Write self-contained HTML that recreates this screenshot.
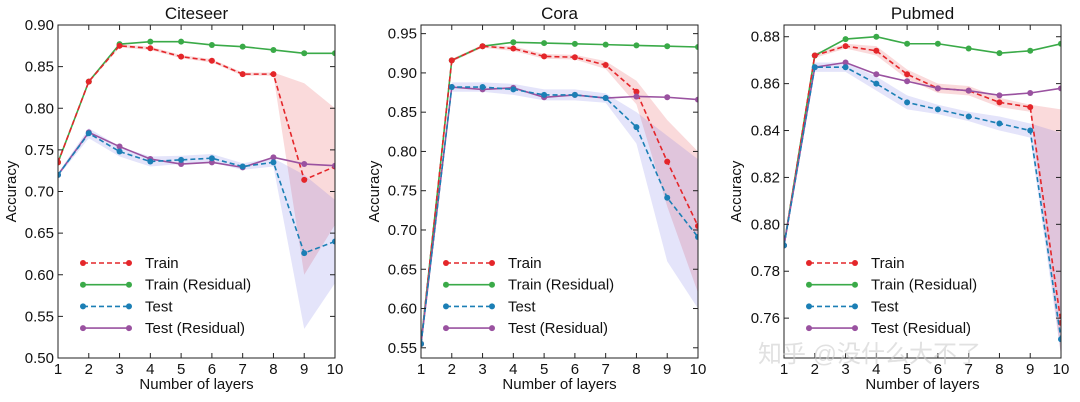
<!DOCTYPE html>
<html><head><meta charset="utf-8"><style>
html,body{margin:0;padding:0;background:#fff;overflow:hidden;width:1080px;height:402px;}
svg{display:block;overflow:hidden;}
svg text{font-family:"Liberation Sans","DejaVu Sans",sans-serif;fill:#111;}
</style></head><body>
<svg id="c" width="1080" height="402" xmlns="http://www.w3.org/2000/svg"></svg>
<script>
const layers=[1,2,3,4,5,6,7,8,9,10];
const citeTrain=[0.735,0.832,0.875,0.872,0.862,0.857,0.841,0.841,0.714,0.730];
const citeTrainRes=[0.735,0.832,0.877,0.880,0.880,0.876,0.874,0.870,0.866,0.866];
const citeTest=[0.720,0.770,0.748,0.736,0.738,0.740,0.730,0.735,0.626,0.640];
const citeTestRes=[0.720,0.771,0.754,0.739,0.733,0.735,0.729,0.741,0.733,0.731];
const citeTrainLo=[0.735,0.830,0.873,0.870,0.860,0.855,0.839,0.839,0.600,0.660];
const citeTrainHi=[0.735,0.834,0.877,0.874,0.864,0.859,0.843,0.843,0.830,0.800];
const citeTestLo=[0.718,0.764,0.742,0.730,0.733,0.735,0.726,0.730,0.535,0.590];
const citeTestHi=[0.722,0.776,0.754,0.742,0.743,0.745,0.734,0.740,0.720,0.690];
const citeTicks=[0.50,0.55,0.60,0.65,0.70,0.75,0.80,0.85,0.90];

const coraTrain=[0.555,0.916,0.934,0.931,0.921,0.920,0.910,0.876,0.787,0.705];
const coraTrainRes=[0.555,0.916,0.934,0.939,0.938,0.937,0.936,0.935,0.934,0.933];
const coraTest=[0.555,0.882,0.882,0.879,0.872,0.872,0.868,0.831,0.741,0.691];
const coraTestRes=[0.555,0.882,0.879,0.881,0.869,0.872,0.868,0.870,0.869,0.866];
const coraTrainLo=[0.555,0.914,0.932,0.928,0.918,0.917,0.905,0.860,0.730,0.620];
const coraTrainHi=[0.555,0.918,0.936,0.934,0.924,0.923,0.915,0.890,0.840,0.800];
const coraTestLo=[0.553,0.876,0.876,0.872,0.865,0.865,0.862,0.810,0.660,0.600];
const coraTestHi=[0.557,0.888,0.888,0.886,0.879,0.879,0.874,0.850,0.820,0.790];
const coraTicks=[0.55,0.60,0.65,0.70,0.75,0.80,0.85,0.90,0.95];

const pubTrain=[0.791,0.872,0.876,0.874,0.864,0.858,0.857,0.852,0.850,0.758];
const pubTrainRes=[0.791,0.872,0.879,0.880,0.877,0.877,0.875,0.873,0.874,0.877];
const pubTest=[0.791,0.867,0.867,0.860,0.852,0.849,0.846,0.843,0.840,0.751];
const pubTestRes=[0.791,0.867,0.869,0.864,0.861,0.858,0.857,0.855,0.856,0.858];
const pubTrainLo=[0.790,0.871,0.875,0.872,0.862,0.856,0.855,0.850,0.848,0.744];
const pubTrainHi=[0.792,0.873,0.877,0.876,0.866,0.860,0.859,0.854,0.851,0.849];
const pubTestLo=[0.790,0.865,0.865,0.857,0.849,0.847,0.844,0.840,0.837,0.744];
const pubTestHi=[0.792,0.869,0.869,0.863,0.855,0.851,0.848,0.846,0.843,0.839];
const pubTicks=[0.76,0.78,0.80,0.82,0.84,0.86,0.88];

const NS="http://www.w3.org/2000/svg";
const svg=document.getElementById('c');
function mk(tag,attrs,parent){const e=document.createElementNS(NS,tag);for(const k in attrs)e.setAttribute(k,attrs[k]);(parent||svg).appendChild(e);return e;}
const COL={train:'#e4262a',trainRes:'#3aaa48',test:'#1b7fb5',testRes:'#9a52a0'};

function panel(o){
  const g=mk('g',{});
  
  
  const L=o.x0,R=o.x1,T=25,B=358;
  const xs=v=>L+(v-1)/9*(R-L);
  const ys=v=>B-(v-o.ymin)/(o.ymax-o.ymin)*(B-T);
  const cp=mk('clipPath',{id:'cp'+o.key},g);mk('rect',{x:L,y:T,width:R-L,height:B-T},cp);
  const pg=mk('g',{'clip-path':'url(#cp'+o.key+')'},g);
  function band(lo,hi,col,name){
    let d='';layers.forEach((l,i)=>{d+=(i?'L':'M')+xs(l)+' '+ys(hi[i]);});
    for(let i=layers.length-1;i>=0;i--)d+='L'+xs(layers[i])+' '+ys(lo[i]);
    const p=mk('path',{d:d+'Z',fill:col,'fill-opacity':0.17,stroke:'none'},pg);
    
    
  }
  band(o.trLo,o.trHi,COL.train,'train-band');
  band(o.teLo,o.teHi,'#6060e0','test-band');
  function series(vals,col,dash,name){
    const pts=layers.map((l,i)=>xs(l)+','+ys(vals[i])).join(' ');
    const pl=mk('polyline',{points:pts,fill:'none',stroke:col,'stroke-width':1.6,'stroke-dasharray':dash?'5,3':'none'},pg);
    
    
    layers.forEach((l,i)=>{const c=mk('circle',{cx:xs(l),cy:ys(vals[i]),r:3,fill:col},pg);
      
      });
  }
  series(o.trainRes,COL.trainRes,false,'train-residual');
  series(o.train,COL.train,true,'train');
  series(o.testRes,COL.testRes,false,'test-residual');
  series(o.test,COL.test,true,'test');
  mk('rect',{x:L,y:T,width:R-L,height:B-T,fill:'none',stroke:'#222','stroke-width':1},g);
  o.ticks.forEach(t=>{const y=ys(t);
    mk('line',{x1:L,y1:y,x2:L+5,y2:y,stroke:'#222'},g);mk('line',{x1:R,y1:y,x2:R-5,y2:y,stroke:'#222'},g);
    const tx=mk('text',{x:L-4,y:y+5,'text-anchor':'end','font-size':15},g);tx.textContent=t.toFixed(2);
    });
  layers.forEach(l=>{const x=xs(l);
    mk('line',{x1:x,y1:B,x2:x,y2:B-5,stroke:'#222'},g);mk('line',{x1:x,y1:T,x2:x,y2:T+5,stroke:'#222'},g);
    const tx=mk('text',{x:x,y:B+16,'text-anchor':'middle','font-size':15},g);tx.textContent=l;
    });
  const ti=mk('text',{x:(L+R)/2,y:19,'text-anchor':'middle','font-size':17},g);ti.textContent=o.title;
  
  const xl=mk('text',{x:(L+R)/2,y:389,'text-anchor':'middle','font-size':15},g);xl.textContent='Number of layers';
  
  const yx=o.ylx;
  const yl=mk('text',{x:yx,y:(T+B)/2,'text-anchor':'middle','font-size':15,transform:'rotate(-90 '+yx+' '+(T+B)/2+')'},g);yl.textContent='Accuracy';
  
  const leg=[['Train',COL.train,true],['Train (Residual)',COL.trainRes,false],['Test',COL.test,true],['Test (Residual)',COL.testRes,false]];
  leg.forEach((e,i)=>{const y=263+i*21.7;const lx=L+25;
    const lg=mk('g',{},g);
    mk('line',{x1:lx,y1:y,x2:lx+46,y2:y,stroke:e[1],'stroke-width':1.6,'stroke-dasharray':e[2]?'5,3':'none'},lg);
    mk('circle',{cx:lx,cy:y,r:3,fill:e[1]},lg);mk('circle',{cx:lx+46,cy:y,r:3,fill:e[1]},lg);
    const t=mk('text',{x:lx+62,y:y+5,'font-size':15},lg);t.textContent=e[0];});
}
panel({key:'citeseer',title:'Citeseer',x0:58,x1:335,ymin:0.50,ymax:0.90,ylx:16,ticks:citeTicks,
  train:citeTrain,trainRes:citeTrainRes,test:citeTest,testRes:citeTestRes,trLo:citeTrainLo,trHi:citeTrainHi,teLo:citeTestLo,teHi:citeTestHi});
panel({key:'cora',title:'Cora',x0:421,x1:698,ymin:0.537,ymax:0.961,ylx:379,ticks:coraTicks,
  train:coraTrain,trainRes:coraTrainRes,test:coraTest,testRes:coraTestRes,trLo:coraTrainLo,trHi:coraTrainHi,teLo:coraTestLo,teHi:coraTestHi});
panel({key:'pubmed',title:'Pubmed',x0:784,x1:1061,ymin:0.743,ymax:0.885,ylx:741,ticks:pubTicks,
  train:pubTrain,trainRes:pubTrainRes,test:pubTest,testRes:pubTestRes,trLo:pubTrainLo,trHi:pubTrainHi,teLo:pubTestLo,teHi:pubTestHi});
const wm=mk('text',{x:758,y:362,'font-size':24,'fill-opacity':0.55,style:'fill:#c8c8c8;font-family:"Liberation Sans","Noto Sans CJK SC",sans-serif'});
wm.textContent='知乎 @没什么大不了';


</script>
</body></html>
